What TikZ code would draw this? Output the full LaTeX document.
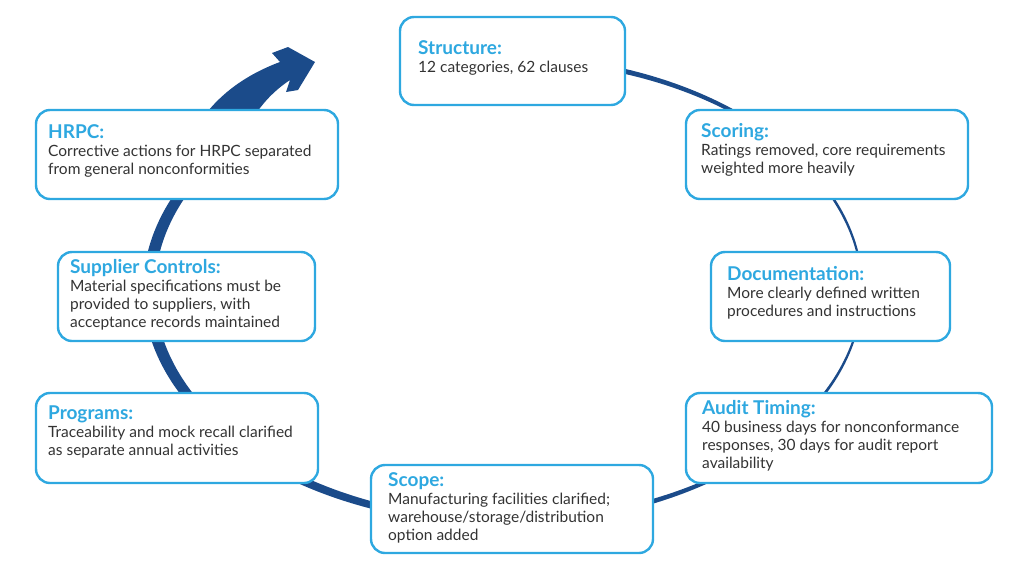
\documentclass[tikz,border=0pt]{standalone}
\usepackage{fontspec}
\setmainfont{Lato}
\usepackage{xcolor}
\definecolor{navy}{HTML}{1B4B8A}
\definecolor{skyblue}{HTML}{2EA8E0}
\definecolor{bodygray}{HTML}{333333}

\tikzset{
  card/.style={draw=skyblue, line width=2.4pt, fill=white, rounded corners=14pt},
  cardtext/.style={anchor=north west, align=left, inner sep=0pt, text=bodygray,
    font=\fontsize{15.5}{18}\selectfont},
}
\newcommand{\cardtitle}[1]{{\color{skyblue}\bfseries\fontsize{19}{21}\selectfont #1}\\[0pt]}

\begin{document}
\begin{tikzpicture}[x=1pt,y=-1pt]
      \useasboundingbox (0,0) rectangle (1024,576);
      \def\cx{503}
      \def\cy{290}

      % Ring
      \fill[navy] ({\cx+360*cos(-80)},{\cy+235*sin(-80)})
        arc[start angle=-80, end angle=215, x radius=360, y radius=235]
        -- ({\cx+5+353*cos(215)},{\cy+229*sin(215)})
        arc[start angle=215, end angle=-80, x radius=353, y radius=229]
        -- cycle;

      % Arrow
      \fill[navy] (280,62) .. controls (245,75) and (205,100) .. (185,150)
        -- (200,190) -- (225,190)
        .. controls (240,130) and (260,100) .. (290,80)
        -- (286,92) -- (298,90) -- (315,62) -- (288,47) -- (272,53) -- cycle;

      % Boxes
      \draw[card] (400,17) rectangle (625,105);
      \node[cardtext] (structure) at (418,40) {\cardtitle{Structure:}12 categories, 62 clauses};
      \draw[card] (686,110) rectangle (968,199);
      \node[cardtext] (scoring) at (701,123) {\cardtitle{Scoring:}Ratings removed, core requirements\\weighted more heavily};
      \draw[card] (711,252) rectangle (950,341);
      \node[cardtext] (documentation) at (727,266) {\cardtitle{Documentation:}More clearly defined written\\procedures and instructions};
      \draw[card] (686,393) rectangle (992,483);
      \node[cardtext] (audit) at (702,400) {\cardtitle{Audit Timing:}40 business days for nonconformance\\responses, 30 days for audit report\\availability};
      \draw[card] (371,465) rectangle (653,553);
      \node[cardtext] (scope) at (388,472) {\cardtitle{Scope:}Manufacturing facilities clarified;\\warehouse/storage/distribution\\option added};
      \draw[card] (36,393) rectangle (318,483);
      \node[cardtext] (programs) at (48,406) {\cardtitle{Programs:}Traceability and mock recall clarified\\as separate annual activities};
      \draw[card] (58,252) rectangle (315,341);
      \node[cardtext] (supplier) at (70,259) {\cardtitle{Supplier Controls:}Material specifications must be\\provided to suppliers, with\\acceptance records maintained};
      \draw[card] (36,110) rectangle (338,199);
      \node[cardtext] (hrpc) at (48,124) {\cardtitle{HRPC:}Corrective actions for HRPC separated\\from general nonconformities};
    \end{tikzpicture}
\end{document}
